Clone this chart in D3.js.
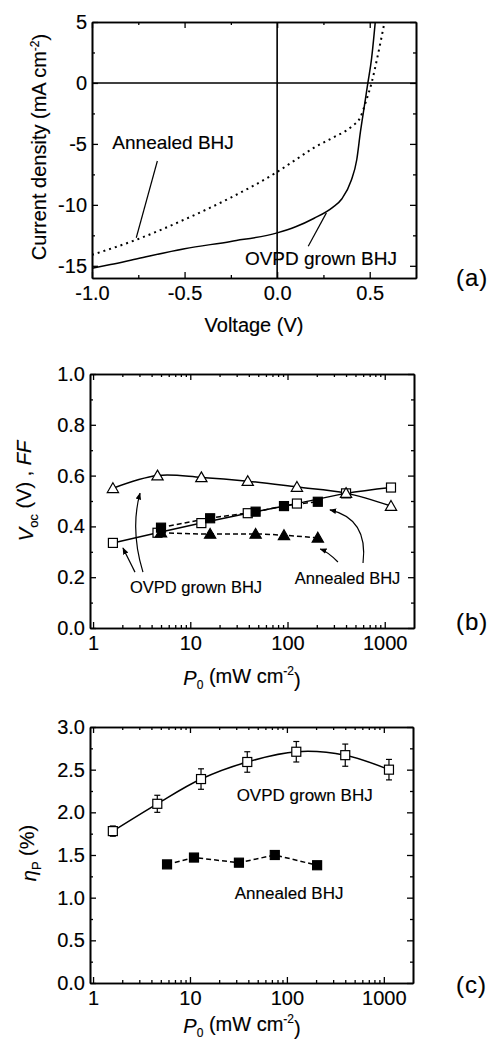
<!DOCTYPE html>
<html lang="en">
<head>
<meta charset="utf-8">
<title>OVPD grown vs annealed BHJ</title>
<script src="https://d3js.org/d3.v7.min.js"></script>
<style>
  body { margin: 0; background: #fff; }
  svg text { font-family: "Liberation Sans", Arial, sans-serif; fill: #000; stroke: #000; stroke-width: 0.15px; }
</style>
</head>
<body>
<script>
// (a) J-V curves
var voltsOvpd = [-1.0, -0.9, -0.75, -0.5, -0.25, 0, 0.1, 0.2, 0.3, 0.35, 0.4, 0.43, 0.45, 0.47, 0.49, 0.51, 0.53];
var currOvpd  = [-15.2, -14.9, -14.4, -13.6, -13.0, -12.3, -11.8, -11.1, -10.2, -9.5, -8.0, -6.3, -4.0, -2.0, 0, 2.0, 5.0];
var voltsAnn  = [-1.0, -0.75, -0.5, -0.25, 0, 0.1, 0.2, 0.3, 0.4, 0.45, 0.48, 0.51, 0.54, 0.58];
var currAnn   = [-14.1, -12.8, -11.2, -9.4, -7.3, -6.3, -5.3, -4.5, -3.6, -2.8, -1.5, 0, 2.0, 5.0];

// (b) Voc and FF vs light intensity
var p0Ovpd  = [1.6, 4.6, 13, 39, 125, 400, 1160];
var vocOvpd = [0.335, 0.375, 0.413, 0.452, 0.49, 0.53, 0.553];
var ffOvpd  = [0.55, 0.60, 0.593, 0.578, 0.555, 0.531, 0.48];
var p0Ann   = [5, 16, 47, 92, 205];
var vocAnn  = [0.395, 0.432, 0.458, 0.48, 0.497];
var ffAnn   = [0.375, 0.37, 0.37, 0.365, 0.355];

// (c) power efficiency
var p0EffOvpd = [1.6, 4.6, 13, 39, 125, 400, 1130];
var effOvpd   = [1.78, 2.1, 2.39, 2.59, 2.71, 2.67, 2.5];
var effErr    = [0.06, 0.1, 0.12, 0.12, 0.12, 0.13, 0.12];
var p0EffAnn  = [5.8, 11, 32, 75, 205];
var effAnn    = [1.39, 1.47, 1.41, 1.5, 1.38];

// ticks
var jTicks = [-15, -10, -5, 0, 5];
var jMinor = [-12.5, -7.5, -2.5, 2.5];
var vTicks = [-1.0, -0.5, 0.0, 0.5];
var vMinor = [-0.75, -0.25, 0.25];
var pTicks = [1, 10, 100, 1000];
var vocTicks = [0, 0.2, 0.4, 0.6, 0.8, 1.0];
var vocMinor = [0.1, 0.3, 0.5, 0.7, 0.9];
var effTicks = [0, 0.5, 1.0, 1.5, 2.0, 2.5, 3.0];
var effMinor = [0.25, 0.75, 1.25, 1.75, 2.25, 2.75];

var pMinor = [];
[1, 10, 100, 1000].forEach(function(d) {
  for (var k = 2; k <= 9; k++) if (d * k < 2000) pMinor.push(d * k);
});

var W = 498, H = 1041;
var svg = d3.select("body").append("svg").attr("width", W).attr("height", H);

var defs = svg.append("defs");
defs.append("marker")
  .attr("id", "arrow")
  .attr("viewBox", "0 0 10 10")
  .attr("refX", 9).attr("refY", 5)
  .attr("markerWidth", 7).attr("markerHeight", 7)
  .attr("markerUnits", "userSpaceOnUse")
  .attr("orient", "auto")
  .append("path").attr("d", "M0,1 L10,5 L0,9 Z").attr("fill", "#000");

var fmt1 = function(d) { return d.toFixed(1); };

// draw a boxed frame with inward ticks on all four sides
function frame(g, x, y, w, h, c) {
  function side(axisFn, tr, vals, size, format, pad) {
    var a = axisFn.tickValues(vals).tickSizeInner(size).tickSizeOuter(0)
      .tickPadding(pad || 6).tickFormat(format || "");
    var s = g.append("g").attr("transform", tr).call(a)
      .attr("font-size", 20).attr("font-family", "Liberation Sans, Arial, sans-serif");
    s.select(".domain").attr("stroke-width", 1.6);
    s.selectAll(".tick line").attr("stroke-width", 1.3);
    return s;
  }
  side(d3.axisBottom(x), "translate(0," + h + ")", c.xMajor, -6, c.xFmt, 8);
  side(d3.axisBottom(x), "translate(0," + h + ")", c.xMinor, -3);
  side(d3.axisTop(x), "translate(0,0)", c.xMajor, -6);
  side(d3.axisTop(x), "translate(0,0)", c.xMinor, -3);
  side(d3.axisLeft(y), "translate(0,0)", c.yMajor, -6, c.yFmt, 5);
  side(d3.axisLeft(y), "translate(0,0)", c.yMinor, -3);
  side(d3.axisRight(y), "translate(" + w + ",0)", c.yMajor, -6);
  side(d3.axisRight(y), "translate(" + w + ",0)", c.yMinor, -3);
  g.selectAll(".tick text").attr("fill", "#000");
}

function squares(g, xs, ys, x, y, filled) {
  g.selectAll(null).data(xs).enter().append("rect")
    .attr("x", function(d) { return x(d) - 4.5; })
    .attr("y", function(d, i) { return y(ys[i]) - 4.5; })
    .attr("width", 9).attr("height", 9)
    .attr("fill", filled ? "#000" : "#fff")
    .attr("stroke", "#000").attr("stroke-width", 1.2);
}

function triangles(g, xs, ys, x, y, filled) {
  var sym = d3.symbol().type(d3.symbolTriangle).size(55);
  g.selectAll(null).data(xs).enter().append("path")
    .attr("d", sym)
    .attr("transform", function(d, i) { return "translate(" + x(d) + "," + (y(ys[i]) + 1) + ")"; })
    .attr("fill", filled ? "#000" : "#fff")
    .attr("stroke", "#000").attr("stroke-width", 1.2);
}

function curve(g, xs, ys, x, y, dash, type) {
  var line = d3.line()
    .x(function(d) { return x(d); })
    .y(function(d, i) { return y(ys[i]); })
    .curve(type || d3.curveMonotoneX);
  return g.append("path").datum(xs).attr("d", line)
    .attr("fill", "none").attr("stroke", "#000").attr("stroke-width", 1.5)
    .attr("stroke-dasharray", dash || null);
}

function note(g, x, y, px, py, txt, size) {
  g.append("text").attr("x", x(px)).attr("y", y(py)).attr("dy", "0.35em")
    .attr("font-size", size).text(txt);
}

function arrow(g, x, y, pts, head) {
  var p = pts.map(function(d) { return [x(d[0]), y(d[1])]; });
  var d = "M" + p[0][0] + "," + p[0][1] + (p.length === 3
    ? " Q" + p[1][0] + "," + p[1][1] + " " + p[2][0] + "," + p[2][1]
    : " L" + p[1][0] + "," + p[1][1]);
  g.append("path").attr("d", d).attr("fill", "none").attr("stroke", "#000")
    .attr("stroke-width", 1.2).attr("marker-end", head ? "url(#arrow)" : null);
}

function panelTag(txt, ty) {
  svg.append("text").attr("x", 456).attr("y", ty).attr("dy", "0.35em")
    .attr("font-size", 24).attr("letter-spacing", 1).text(txt);
}

function powerLabel(g, cx, by) {
  var t = g.append("text").attr("x", cx).attr("y", by).attr("text-anchor", "middle")
    .attr("font-size", 20);
  t.append("tspan").attr("font-style", "italic").text("P");
  t.append("tspan").attr("font-size", 12).attr("dy", "0.3em").text("0");
  t.append("tspan").attr("dy", "-0.3em").text(" (mW cm");
  t.append("tspan").attr("font-size", 12).attr("dy", "-0.6em").text("-2");
  t.append("tspan").attr("dy", "0.6em").text(")");
}

// ---------- panel (a)
var aL = 92, aT = 22, aW = 324, aH = 256;
var ga = svg.append("g").attr("transform", "translate(" + aL + "," + aT + ")");
var xa = d3.scaleLinear().domain([-1, 0.75]).range([0, aW]);
var ya = d3.scaleLinear().domain([-16, 5]).range([aH, 0]);

ga.append("defs").append("clipPath").attr("id", "clipA")
  .append("rect").attr("width", aW).attr("height", aH);
frame(ga, xa, ya, aW, aH, {
  xMajor: vTicks, xMinor: vMinor, xFmt: fmt1,
  yMajor: jTicks, yMinor: jMinor, yFmt: function(d) { return String(d); }
});
ga.append("line").attr("x1", 0).attr("x2", aW).attr("y1", ya(0)).attr("y2", ya(0))
  .attr("stroke", "#000").attr("stroke-width", 1.6);
ga.append("line").attr("x1", xa(0)).attr("x2", xa(0)).attr("y1", 0).attr("y2", aH)
  .attr("stroke", "#000").attr("stroke-width", 1.6);
var ca = ga.append("g").attr("clip-path", "url(#clipA)");
curve(ca, voltsOvpd, currOvpd, xa, ya);
curve(ca, voltsAnn, currAnn, xa, ya, "2,4").attr("stroke-width", 2);

note(ga, xa, ya, -0.89, -4.9, "Annealed BHJ", 19);
arrow(ga, xa, ya, [[-0.647, -6.4], [-0.761, -12.7]], false);
note(ga, xa, ya, -0.174, -14.4, "OVPD grown BHJ", 19);
arrow(ga, xa, ya, [[0.168, -13.4], [0.266, -10.66]], false);

ga.append("text").attr("x", aW / 2).attr("y", aH + 54).attr("text-anchor", "middle")
  .attr("font-size", 20).text("Voltage (V)");
var yla = ga.append("text").attr("transform", "translate(-46," + (aH / 2 - 3) + ") rotate(-90)")
  .attr("text-anchor", "middle").attr("font-size", 20);
yla.append("tspan").text("Current density (mA cm");
yla.append("tspan").attr("font-size", 12).attr("dy", "-0.6em").text("-2");
yla.append("tspan").attr("dy", "0.4em").text(")");
panelTag("(a)", 278);

// ---------- panel (b)
var bL = 90, bT = 374, bW = 324, bH = 254;
var gb = svg.append("g").attr("transform", "translate(" + bL + "," + bT + ")");
var xb = d3.scaleLog().domain([0.93, 2000]).range([0, bW]);
var yb = d3.scaleLinear().domain([0, 1]).range([bH, 0]);
frame(gb, xb, yb, bW, bH, {
  xMajor: pTicks, xMinor: pMinor, xFmt: function(d) { return String(d); },
  yMajor: vocTicks, yMinor: vocMinor, yFmt: fmt1
});
curve(gb, p0Ovpd, vocOvpd, xb, yb);
curve(gb, p0Ovpd, ffOvpd, xb, yb, null, d3.curveCatmullRom);
curve(gb, p0Ann, vocAnn, xb, yb, "5,3");
curve(gb, p0Ann, ffAnn, xb, yb, "5,3");
squares(gb, p0Ovpd, vocOvpd, xb, yb, false);
triangles(gb, p0Ovpd, ffOvpd, xb, yb, false);
squares(gb, p0Ann, vocAnn, xb, yb, true);
triangles(gb, p0Ann, ffAnn, xb, yb, true);

note(gb, xb, yb, 2.4, 0.161, "OVPD grown BHJ", 16.5);
arrow(gb, xb, yb, [[2.7, 0.22], [2.03, 0.315]], true);
arrow(gb, xb, yb, [[3.26, 0.22], [2.4, 0.386], [3.04, 0.531]], true);
note(gb, xb, yb, 119, 0.197, "Annealed BHJ", 16.5);
arrow(gb, xb, yb, [[330, 0.26], [260, 0.3], [217, 0.311]], true);
arrow(gb, xb, yb, [[598, 0.256], [680, 0.43], [273, 0.465]], true);

powerLabel(gb, 152, bH + 57);
var ylb = gb.append("text").attr("transform", "translate(-57," + (bH / 2 - 10) + ") rotate(-90)")
  .attr("text-anchor", "middle").attr("font-size", 20);
ylb.append("tspan").attr("font-style", "italic").text("V");
ylb.append("tspan").attr("font-size", 13).attr("dy", "0.35em").text("oc");
ylb.append("tspan").attr("dy", "-0.35em").text(" (V) , ");
ylb.append("tspan").attr("font-style", "italic").text("FF");
panelTag("(b)", 622);

// ---------- panel (c)
var cL = 90, cT = 727, cW = 323, cH = 256;
var gc = svg.append("g").attr("transform", "translate(" + cL + "," + cT + ")");
var xc = d3.scaleLog().domain([0.93, 2000]).range([0, cW]);
var yc = d3.scaleLinear().domain([0, 3]).range([cH, 0]);
frame(gc, xc, yc, cW, cH, {
  xMajor: pTicks, xMinor: pMinor, xFmt: function(d) { return String(d); },
  yMajor: effTicks, yMinor: effMinor, yFmt: fmt1
});
curve(gc, p0EffOvpd, effOvpd, xc, yc, null, d3.curveCatmullRom);
curve(gc, p0EffAnn, effAnn, xc, yc, "5,3", d3.curveLinear);

var eb = gc.append("g").attr("stroke", "#000").attr("stroke-width", 1.2);
eb.selectAll(null).data(p0EffOvpd).enter().append("line")
  .attr("x1", function(d) { return xc(d); }).attr("x2", function(d) { return xc(d); })
  .attr("y1", function(d, i) { return yc(effOvpd[i] - effErr[i]); })
  .attr("y2", function(d, i) { return yc(effOvpd[i] + effErr[i]); });
[-1, 1].forEach(function(sgn) {
  eb.selectAll(null).data(p0EffOvpd).enter().append("line")
    .attr("x1", function(d) { return xc(d) - 3; }).attr("x2", function(d) { return xc(d) + 3; })
    .attr("y1", function(d, i) { return yc(effOvpd[i] + sgn * effErr[i]); })
    .attr("y2", function(d, i) { return yc(effOvpd[i] + sgn * effErr[i]); });
});
squares(gc, p0EffOvpd, effOvpd, xc, yc, false);
squares(gc, p0EffAnn, effAnn, xc, yc, true);

note(gc, xc, yc, 30.3, 2.2, "OVPD grown BHJ", 17);
note(gc, xc, yc, 29, 1.055, "Annealed BHJ", 17);

powerLabel(gc, 152, cH + 50);
var ylc = gc.append("text").attr("transform", "translate(-54," + (cH / 2 - 2) + ") rotate(-90)")
  .attr("text-anchor", "middle").attr("font-size", 20);
ylc.append("tspan").attr("font-style", "italic").text("η");
ylc.append("tspan").attr("font-size", 13).attr("dy", "0.35em").text("P");
ylc.append("tspan").attr("dy", "-0.35em").text(" (%)");
panelTag("(c)", 985);
</script>
</body>
</html>
